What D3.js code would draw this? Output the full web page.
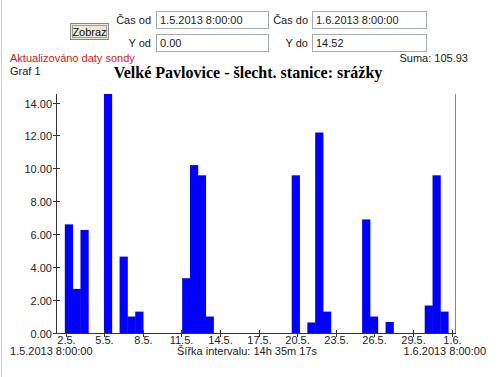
<!DOCTYPE html>
<html><head><meta charset="utf-8">
<script src="https://cdn.jsdelivr.net/npm/d3@7"></script>
<style>
html,body{margin:0;padding:0;background:#fff;}
svg{display:block;}
text{font-family:"Liberation Sans",Arial,sans-serif;}
</style></head>
<body>
<script>
// ---- data ----
const rangeStart = "2013-05-01T08:00:00";
const rangeEnd = "2013-06-01T08:00:00";
const binCount = 51;
const binValues = [0, 6.6, 2.68, 6.26, 0, 0, 14.52, 0, 4.64, 1.0, 1.3, 0, 0, 0, 0, 0,
  3.33, 10.2, 9.58, 1.0, 0, 0, 0, 0, 0, 0, 0, 0, 0, 0, 9.58, 0, 0.64, 12.18, 1.3,
  0, 0, 0, 0, 6.9, 1.0, 0, 0.67, 0, 0, 0, 0, 1.67, 9.58, 1.3, 0];
const tickDates = ["2013-05-02","2013-05-05","2013-05-08","2013-05-11","2013-05-14","2013-05-17",
  "2013-05-20","2013-05-23","2013-05-26","2013-05-29","2013-06-01"];
const tickLabels = ["2.5.","5.5.","8.5.","11.5.","14.5.","17.5.","20.5.","23.5.","26.5.","29.5.","1.6."];
const yTicks = [0, 2, 4, 6, 8, 10, 12, 14];
const yMin = 0, yMax = 14.52;
const title = "Velké Pavlovice - šlecht. stanice: srážky";

// ---- drawing ----
const W = 500, H = 377;
const svg = d3.select("body").append("svg").attr("width", W).attr("height", H);
const t0 = new Date(rangeStart), t1 = new Date(rangeEnd);
const x = d3.scaleTime().domain([t0, t1]).range([57, 456]);
const y = d3.scaleLinear().domain([yMin, yMax]).range([333, 94]);
const bw = (t1 - t0) / binCount;

// left page border
svg.append("line").attr("x1",1.5).attr("x2",1.5).attr("y1",0).attr("y2",H)
  .attr("stroke","#c5d5e8").attr("stroke-width",1);

// form controls
const fs = 11;
svg.append("rect").attr("x",70.5).attr("y",23.5).attr("width",38).attr("height",16)
  .attr("fill","#ece9d8").attr("stroke","#888").attr("stroke-width",1);
svg.append("rect").attr("x",72.5).attr("y",25.5).attr("width",34).attr("height",12)
  .attr("fill","none").attr("stroke","#555").attr("stroke-dasharray","1,1");
svg.append("text").attr("x",89.5).attr("y",35.5).attr("text-anchor","middle")
  .attr("font-size",fs).attr("fill","#111").text("Zobraz");

function field(lx, label, bx, by, bwid, val){
  svg.append("text").attr("x",lx).attr("y",by+13).attr("text-anchor","end")
    .attr("font-size",fs).attr("fill","#222").text(label);
  svg.append("rect").attr("x",bx+0.5).attr("y",by+0.5).attr("width",bwid).attr("height",17)
    .attr("fill","#fff").attr("stroke","#a5acb2");
  svg.append("text").attr("x",bx+4).attr("y",by+13).attr("font-size",fs).attr("fill","#222").text(val);
}
field(151, "Čas od", 156, 11, 112, "1.5.2013 8:00:00");
field(151, "Y od", 156, 34, 112, d3.format(".2f")(yMin));
field(308, "Čas do", 312, 11, 114, "1.6.2013 8:00:00");
field(308, "Y do", 312, 34, 114, d3.format(".2f")(yMax));

svg.append("text").attr("x",468).attr("y",62).attr("text-anchor","end")
  .attr("font-size",fs).attr("fill","#222").text("Suma: " + d3.format(".2f")(d3.sum(binValues)));
svg.append("text").attr("x",10).attr("y",62).attr("font-size",fs).attr("fill","#cc2020")
  .text("Aktualizováno daty sondy");
svg.append("text").attr("x",10).attr("y",75).attr("font-size",fs).attr("fill","#222").text("Graf 1");
svg.append("text").attr("x",248).attr("y",78).attr("text-anchor","middle")
  .style("font-family","'Liberation Serif','Times New Roman',serif").attr("font-weight","bold")
  .attr("font-size",16).attr("fill","#000").text(title);

// bars
const bins = binValues.map((v, i) => ({v, i, s: new Date(+t0 + i*bw), e: new Date(+t0 + (i+1)*bw)}));
svg.append("g").selectAll("rect").data(bins.filter(d => d.v > 0)).join("rect")
  .attr("x", d => x(d.s))
  .attr("width", d => x(d.e) - x(d.s) + 0.4)
  .attr("y", d => y(d.v))
  .attr("height", d => y(0) - y(d.v))
  .attr("fill", "#0000ff");

// axes
const axCol = "#333";
svg.append("line").attr("x1",56.5).attr("x2",56.5).attr("y1",y(yMax)).attr("y2",y(0)+0.5)
  .attr("stroke",axCol);
svg.append("line").attr("x1",455.5).attr("x2",455.5).attr("y1",y(yMax)).attr("y2",y(0)+0.5)
  .attr("stroke","#888");
svg.append("line").attr("x1",56.5).attr("x2",456).attr("y1",333.5).attr("y2",333.5)
  .attr("stroke",axCol);

const yg = svg.append("g");
yTicks.forEach(v => {
  const yy = Math.round(y(v)) + 0.5;
  yg.append("line").attr("x1",53).attr("x2",60).attr("y1",yy).attr("y2",yy).attr("stroke",axCol);
  yg.append("text").attr("x",52).attr("y",yy+4).attr("text-anchor","end")
    .attr("font-size",fs).attr("fill","#222").text(d3.format(".2f")(v));
});
const xg = svg.append("g");
tickDates.forEach((s,i) => {
  const xx = Math.round(x(new Date(s + "T00:00:00"))) + 0.5;
  xg.append("line").attr("x1",xx).attr("x2",xx).attr("y1",330).attr("y2",337).attr("stroke",axCol);
  xg.append("text").attr("x",xx).attr("y",344).attr("text-anchor","middle")
    .attr("font-size",fs).attr("fill","#222").text(tickLabels[i]);
});

svg.append("text").attr("x",10).attr("y",355).attr("font-size",fs).attr("fill","#222").text("1.5.2013 8:00:00");
svg.append("text").attr("x",486).attr("y",355).attr("text-anchor","end").attr("font-size",fs).attr("fill","#222").text("1.6.2013 8:00:00");
svg.append("text").attr("x",247).attr("y",355).attr("text-anchor","middle").attr("font-size",fs).attr("fill","#222").text("Šířka intervalu: 14h 35m 17s");
</script>
</body></html>
